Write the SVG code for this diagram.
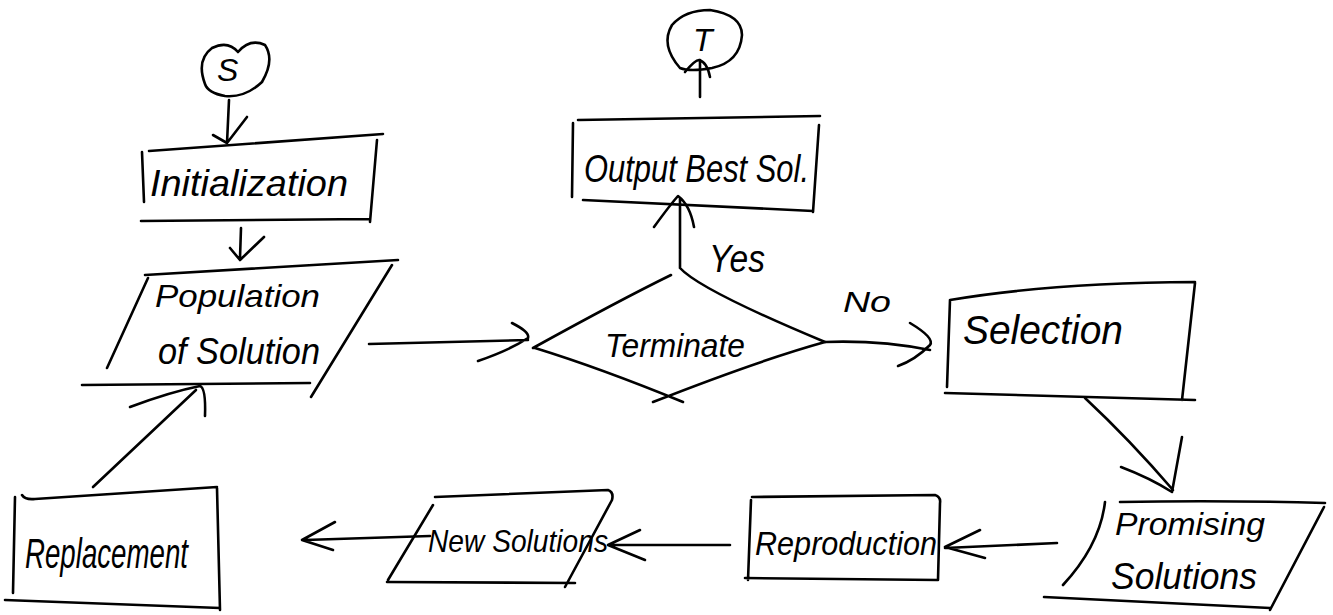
<svg xmlns="http://www.w3.org/2000/svg" width="1333" height="615" viewBox="0 0 1333 615">
<style>
.s{fill:none;stroke:#000;stroke-width:2.6;stroke-linecap:round;stroke-linejoin:round}
.t{font-family:"Liberation Sans",Arial,sans-serif;font-style:italic;fill:#000}
</style>
<rect width="1333" height="615" fill="#fff"/>
<g id="connectors">
<path class="s" d="M229 100 L227 143 M213 135 L227 143 L247 117"/>
<path class="s" d="M241 228 L240 258 M230 248 L240 260 L264 237"/>
<path class="s" d="M369 344 L528 340 M512 323 Q530 332 528 338 Q510 350 478 361"/>
<path class="s" d="M680 267 L680 198 M654 227 Q670 205 678 196 Q690 205 694 227"/>
<path class="s" d="M700 97 L700 60 M685 72 Q695 60 699 60 Q707 62 710 77"/>
<path class="s" d="M825 342 Q880 340 930 350 M910 323 Q935 338 930 345 Q915 360 898 366"/>
<path class="s" d="M1085 398 Q1130 440 1173 490 M1121 467 Q1150 478 1172 492 L1182 437"/>
<path class="s" d="M1057 543 L945 548 M980 530 L945 547 L985 558"/>
<path class="s" d="M730 545 L610 545 M640 530 L608 545 L645 560"/>
<path class="s" d="M430 536 L305 540 M335 522 L302 540 L333 550"/>
<path class="s" d="M93 487 L196 390 M130 407 Q170 392 200 386 Q206 388 205 416"/>
</g>
<g id="start">
<path class="s" d="M205 84 Q196 60 212 48 Q228 40 238 52 Q250 38 265 45 Q275 60 262 82 Q245 98 225 96 Q208 93 205 84 Z"/>
<text class="t" x="217" y="81" font-size="32">S</text>
</g>
<g id="initialization">
<path class="s" d="M149 151 L383 134 M377 140 L370 222 M141 221 L370 219 M142 152 L144 202"/>
<text class="t" x="150" y="196" font-size="36" textLength="198" lengthAdjust="spacingAndGlyphs">Initialization</text>
</g>
<g id="population">
<path class="s" d="M145 275 L398 260 M392 265 L311 397 M82 385 L310 383 M148 278 L107 368"/>
<text class="t" x="155" y="307" font-size="32" textLength="165" lengthAdjust="spacingAndGlyphs">Population</text>
<text class="t" x="158" y="364" font-size="36" textLength="162" lengthAdjust="spacingAndGlyphs">of Solution</text>
</g>
<g id="terminate">
<path class="s" d="M680 268 Q700 290 825 342 M533 348 Q620 300 671 275 M535 348 Q600 368 683 402 M825 342 Q760 360 653 402"/>
<text class="t" x="605" y="357" font-size="34" textLength="140" lengthAdjust="spacingAndGlyphs">Terminate</text>
</g>
<g id="yes-label">
<text class="t" x="709" y="272" font-size="38" textLength="56" lengthAdjust="spacingAndGlyphs">Yes</text>
</g>
<g id="output">
<path class="s" d="M578 120 L820 116 M819 125 L813 212 M583 200 L813 211 M573 123 L572 197"/>
<text class="t" x="584" y="182" font-size="38" textLength="225" lengthAdjust="spacingAndGlyphs">Output Best Sol.</text>
</g>
<g id="end">
<path class="s" d="M680 68 Q660 45 672 25 Q685 10 710 10 Q742 15 742 35 Q740 62 712 68 Q690 72 680 68 Z"/>
<text class="t" x="693" y="51" font-size="32">T</text>
</g>
<g id="no-label">
<text class="t" x="843" y="312" font-size="30" textLength="48" lengthAdjust="spacingAndGlyphs">No</text>
</g>
<g id="selection">
<path class="s" d="M950 300 Q1050 283 1195 282 M1195 283 L1182 400 M945 393 L1195 400 M950 300 L947 387"/>
<text class="t" x="963" y="344" font-size="40" textLength="160" lengthAdjust="spacingAndGlyphs">Selection</text>
</g>
<g id="promising">
<path class="s" d="M1120 502 Q1220 500 1325 503 M1324 507 L1270 610 M1044 597 L1270 608 M1105 502 Q1100 545 1063 585"/>
<text class="t" x="1115" y="535" font-size="32" textLength="150" lengthAdjust="spacingAndGlyphs">Promising</text>
<text class="t" x="1111" y="589" font-size="36" textLength="146" lengthAdjust="spacingAndGlyphs">Solutions</text>
</g>
<g id="reproduction">
<path class="s" d="M752 497 L935 495 Q941 497 940 503 L938 580 M745 578 L938 580 M751 500 L748 580"/>
<text class="t" x="755" y="555" font-size="34" textLength="182" lengthAdjust="spacingAndGlyphs">Reproduction</text>
</g>
<g id="new-solutions">
<path class="s" d="M435 497 L608 490 Q614 492 612 500 L565 587 M387 582 L575 583 M433 505 L388 580"/>
<text class="t" x="428" y="552" font-size="32" textLength="180" lengthAdjust="spacingAndGlyphs">New Solutions</text>
</g>
<g id="replacement">
<path class="s" d="M22 495 Q25 500 35 499 L217 487 M217 488 L220 610 M5 600 L220 608 M15 497 L13 593"/>
<text class="t" x="25" y="568" font-size="42" textLength="163" lengthAdjust="spacingAndGlyphs">Replacement</text>
</g>
</svg>
